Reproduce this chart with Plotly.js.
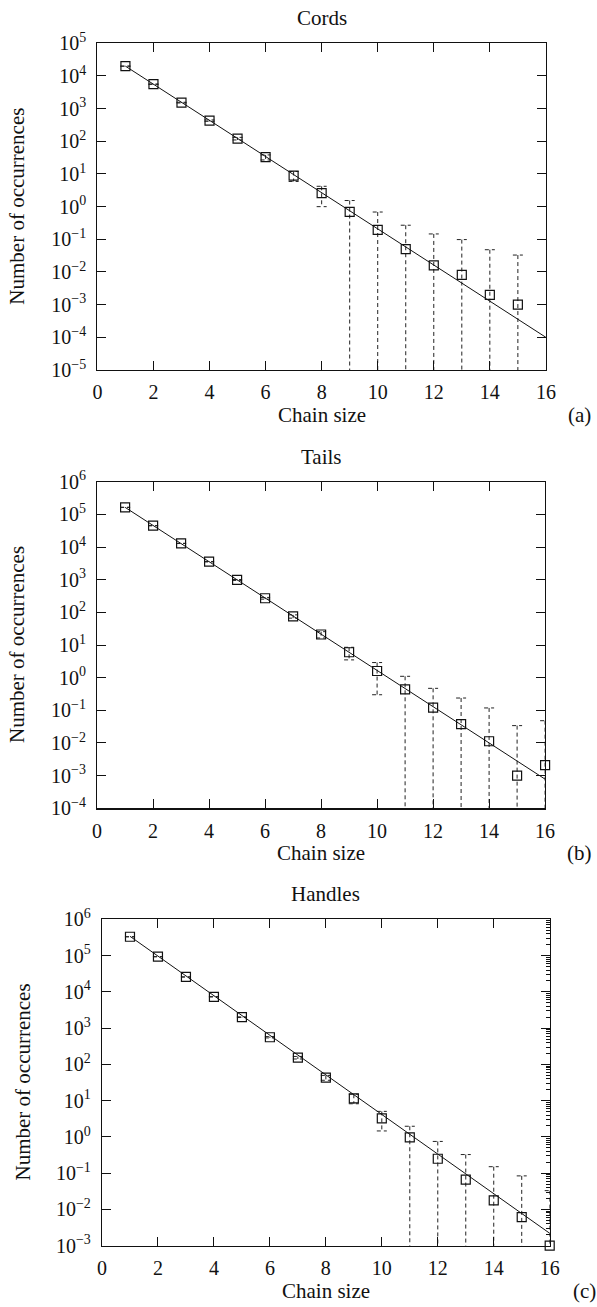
<!DOCTYPE html>
<html><head><meta charset="utf-8">
<script src="https://cdn.plot.ly/plotly-3.0.1.min.js"></script>
<style>
html,body{margin:0;padding:0;background:#fff;}
#chart{width:597px;height:1307px;}
.yerror{stroke-dasharray:4px,3px;}
</style></head><body><div id="chart"></div>
<script>
// ---- data ----
const xTickVals = [0, 2, 4, 6, 8, 10, 12, 14, 16];

const cordsX   = [1, 2, 3, 4, 5, 6, 7, 8, 9, 10, 11, 12, 13, 14, 15];
const cordsY   = [2.0e4, 5.6e3, 1.53e3, 430, 121, 32.6, 8.9, 2.6, 0.69, 0.195, 0.05, 0.016, 0.0082, 0.002, 0.001];
const cordsErr = [141, 75, 39, 21, 11, 5.7, 3.0, 1.6, 0.85, 0.49, 0.22, 0.13, 0.09, 0.046, 0.032];
const cordsFitX = [1, 16];
const cordsFitY = [2.0e4, 1.0e-4];
const cordsExp  = [-5, -4, -3, -2, -1, 0, 1, 2, 3, 4, 5];

const tailsX   = [1, 2, 3, 4, 5, 6, 7, 8, 9, 10, 11, 12, 13, 14, 15, 16];
const tailsY   = [1.64e5, 4.5e4, 1.29e4, 3.55e3, 980, 270, 75, 21, 6.0, 1.6, 0.44, 0.121, 0.038, 0.0113, 0.001, 0.0021];
const tailsErr = [405, 212, 114, 60, 31, 16.4, 8.7, 4.6, 2.5, 1.3, 0.66, 0.35, 0.2, 0.107, 0.033, 0.046];
const tailsFitX = [1, 16];
const tailsFitY = [1.64e5, 7.8e-4];
const tailsExp  = [-4, -3, -2, -1, 0, 1, 2, 3, 4, 5, 6];

const handlesX   = [1, 2, 3, 4, 5, 6, 7, 8, 9, 10, 11, 12, 13, 14, 15, 16];
const handlesY   = [3.3e5, 9.3e4, 2.57e4, 7.3e3, 2.0e3, 560, 153, 43, 11.6, 3.26, 0.975, 0.25, 0.066, 0.0178, 0.0061, 0.001];
const handlesErr = [575, 305, 160, 85, 45, 23.7, 12.4, 6.6, 3.4, 1.8, 0.99, 0.5, 0.26, 0.133, 0.078, 0.032];
const handlesFitX = [1, 16];
const handlesFitY = [3.4e5, 2.2e-3];
const handlesExp  = [-3, -2, -1, 0, 1, 2, 3, 4, 5, 6];

const panelTitles = ['Cords', 'Tails', 'Handles'];
const panelTags = ['(a)', '(b)', '(c)'];
const xTitle = 'Chain size';
const yTitle = 'Number of occurrences';

// ---- layout geometry (pixels) ----
const W = 597, H = 1307;
const FONT = 'Liberation Serif';
const INK = '#111';
const boxes = [
  {l: 97.4, r: 545.9, t: 43.3,  b: 370.0},
  {l: 97.1, r: 545.1, t: 481.7, b: 808.3},
  {l: 102.0, r: 549.7, t: 919.3, b: 1245.7}
];
const px = v => v / W;
const py = v => 1 - v / H;

function supText(e) {
  return '10<sup>' + (e < 0 ? '\u2212' + (-e) : e) + '</sup>';
}

const series = [
  {x: cordsX, y: cordsY, err: cordsErr, fx: cordsFitX, fy: cordsFitY, exp: cordsExp},
  {x: tailsX, y: tailsY, err: tailsErr, fx: tailsFitX, fy: tailsFitY, exp: tailsExp},
  {x: handlesX, y: handlesY, err: handlesErr, fx: handlesFitX, fy: handlesFitY, exp: handlesExp}
];

const traces = [];
const layout = {
  width: W, height: H,
  margin: {l: 0, r: 0, t: 0, b: 0},
  paper_bgcolor: '#fff', plot_bgcolor: '#fff',
  showlegend: false,
  font: {family: FONT, size: 20, color: INK},
  annotations: []
};

series.forEach((s, i) => {
  const n = i + 1;
  const xa = n === 1 ? 'x' : 'x' + n;
  const ya = n === 1 ? 'y' : 'y' + n;
  const bx = boxes[i];
  traces.push({
    type: 'scatter', mode: 'markers', x: s.x, y: s.y, xaxis: xa, yaxis: ya,
    marker: {size: 1, opacity: 0}, hoverinfo: 'skip', cliponaxis: true,
    error_y: {type: 'data', array: s.err, symmetric: true, color: '#222', thickness: 1, width: 5}
  });
  traces.push({
    type: 'scatter', mode: 'lines', x: s.fx, y: s.fy, xaxis: xa, yaxis: ya,
    line: {color: INK, width: 1}, hoverinfo: 'skip'
  });
  traces.push({
    type: 'scatter', mode: 'markers', x: s.x, y: s.y, xaxis: xa, yaxis: ya,
    marker: {symbol: 'square-open', size: 9, color: INK, line: {width: 1.2, color: INK}},
    cliponaxis: false, hoverinfo: 'skip'
  });
  const lo = Math.min(...s.exp), hi = Math.max(...s.exp);
  layout['xaxis' + (n === 1 ? '' : n)] = {
    domain: [px(bx.l), px(bx.r)], anchor: ya, range: [0, 16],
    tickvals: xTickVals, ticktext: xTickVals.map(String),
    ticks: 'inside', ticklen: 9, tickwidth: 1, tickcolor: INK,
    showline: true, linecolor: INK, linewidth: 1.2, mirror: 'ticks',
    showgrid: false, zeroline: false, ticklabelstandoff: 4,
    tickfont: {family: FONT, size: 20, color: INK}
  };
  layout['yaxis' + (n === 1 ? '' : n)] = {
    domain: [py(bx.b), py(bx.t)], anchor: xa, type: 'log', range: [lo, hi],
    tickvals: s.exp.map(e => Math.pow(10, e)), ticktext: s.exp.map(supText),
    ticks: 'inside', ticklen: 9, tickwidth: 1, tickcolor: INK,
    showline: true, linecolor: INK, linewidth: 1.2, mirror: 'ticks',
    showgrid: false, zeroline: false, ticklabelstandoff: 6,
    tickfont: {family: FONT, size: 20, color: INK}
  };
  const cx = (bx.l + bx.r) / 2;
  layout.annotations.push(
    {text: panelTitles[i], xref: 'paper', yref: 'paper', x: px(cx), y: py(bx.t - 25), xanchor: 'center', yanchor: 'middle', showarrow: false, font: {family: FONT, size: 21, color: INK}},
    {text: xTitle, xref: 'paper', yref: 'paper', x: px(cx), y: py(bx.b + 45), xanchor: 'center', yanchor: 'middle', showarrow: false, font: {family: FONT, size: 21, color: INK}},
    {text: panelTags[i], xref: 'paper', yref: 'paper', x: px(i === 2 ? 584 : 579), y: py(bx.b + 45), xanchor: 'center', yanchor: 'middle', showarrow: false, font: {family: FONT, size: 21, color: INK}},
    {text: yTitle, xref: 'paper', yref: 'paper', x: px(i === 2 ? 22 : 17), y: py((bx.t + bx.b) / 2), xanchor: 'center', yanchor: 'middle', textangle: -90, showarrow: false, font: {family: FONT, size: 21, color: INK}}
  );
});

traces.push({type: 'scatter', mode: 'lines', x: [], y: [], xaxis: 'x3', yaxis: 'y4', hoverinfo: 'skip'});
layout.yaxis4 = {
  overlaying: 'y3', side: 'right', anchor: 'x3', type: 'log',
  range: [Math.min(...handlesExp), Math.max(...handlesExp)],
  dtick: 1, ticks: 'inside', ticklen: 9, tickcolor: INK, showticklabels: false,
  showline: false, showgrid: false, zeroline: false,
  minor: {ticks: 'inside', ticklen: 4, tickcolor: INK, dtick: 'D1', showgrid: false}
};

Plotly.newPlot('chart', traces, layout, {staticPlot: true, displayModeBar: false});
</script></body></html>
